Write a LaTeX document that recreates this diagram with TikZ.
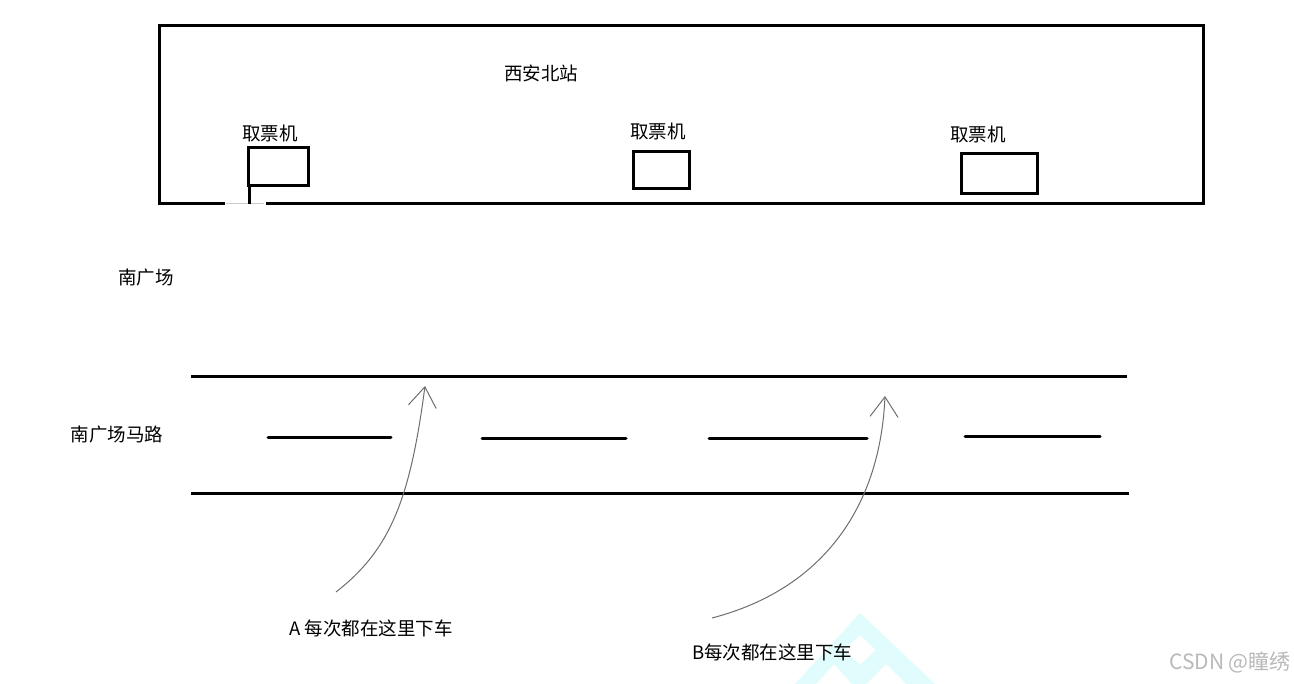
\documentclass[tikz,border=0pt]{standalone}
\usepackage{fontspec}
\setmainfont{Noto Sans CJK SC}
\usetikzlibrary{arrows.meta}
\definecolor{wm}{RGB}{225,252,252}
\definecolor{arrowgray}{RGB}{110,110,110}
\tikzset{
  thickline/.style={line width=3pt, black},
  dashline/.style={line width=3pt, black, line cap=round},
  machine/.style={draw, line width=3pt, minimum width=#1, inner sep=0pt},
  lbl/.style={font=\fontsize{18.5}{22}\selectfont, inner sep=0pt},
  curvearrow/.style={line width=1pt, arrowgray, -{Straight Barb[length=20pt,width=28pt,line width=1pt]}},
}
\begin{document}
\begin{tikzpicture}[x=1pt,y=-1pt]
\useasboundingbox (0,0) rectangle (1294,684);
\fill[white] (0,0) rectangle (1294,684);
% watermark shape
\fill[wm,even odd rule] (860,613) -- (935,684) -- (795,684) -- cycle
  (860,635) -- (876,650) -- (860,665) -- (844,650) -- cycle
  (834,664) -- (852,684) -- (816,684) -- cycle
  (886,664) -- (906,684) -- (866,684) -- cycle;
% station building
\draw[thickline] (224.5,204) -- (159,204) -- (159,26) -- (1203,26) -- (1203,204) -- (265.5,204);
\draw[line width=1pt, gray!40] (226,204) -- (264,204);
\node[lbl] (station) at (541,73) {西安北站};
\node[lbl] (l1) at (270,133) {取票机};
\node[lbl] (l2) at (658,131) {取票机};
\node[lbl] (l3) at (978,134) {取票机};
\node[machine=60pt, minimum height=38pt] (m1) at (278,167) {};
\node[machine=56pt, minimum height=37pt] (m2) at (661,170.5) {};
\node[machine=76pt, minimum height=40pt] (m3) at (999,174) {};
\coordinate (door) at (249,204);
\draw[line width=3pt] (m1.south west -| door) -- (door);
% square and road
\node[lbl] (square) at (146,278) {南广场};
\node[lbl] (road) at (117,435) {南广场马路};
\coordinate (t1) at (191,377); \coordinate (t2) at (1127,377);
\coordinate (b1) at (191,494); \coordinate (b2) at (1129,494);
\draw[thickline] (t1) -- (t2);
\draw[thickline] (b1) -- (b2);
\draw[dashline] (268,438) -- (391,438);
\draw[dashline] (482,439) -- (626,439);
\draw[dashline] (709,439) -- (867,439);
\draw[dashline] (965,437) -- (1100,437);
% arrows
\node[lbl, anchor=west] (ta) at (289,628) {A 每次都在这里下车};
\node[lbl, anchor=west] (tb) at (692,652) {B每次都在这里下车};
\coordinate (a0) at (336,592); \coordinate (a1) at (425,386);
\coordinate (b0) at (712,618); \coordinate (b1a) at (885,396);
\draw[curvearrow] (a0) .. controls (390,550) and (410,500) .. (a1);
\draw[curvearrow] (b0) .. controls (820,590) and (880,510) .. (b1a);
% CSDN mark
\node[font=\fontsize{21}{24}\selectfont, text=gray!55, anchor=east, inner sep=0pt] (csdn) at (1291,662) {CSDN @瞳绣};
\end{tikzpicture}
\end{document}
